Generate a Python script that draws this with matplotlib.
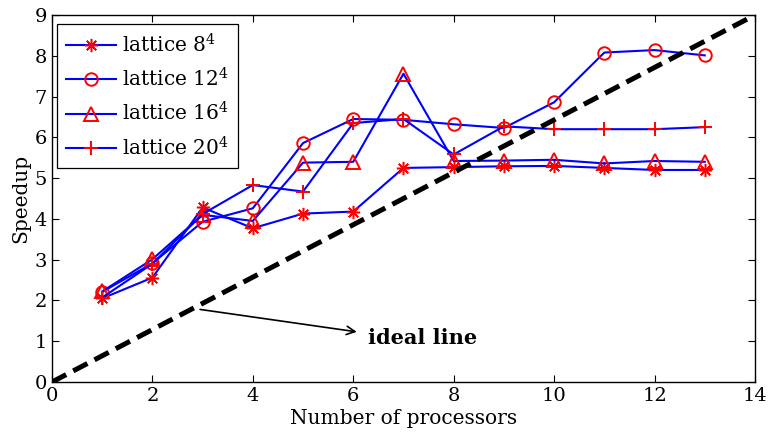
import matplotlib
matplotlib.use("Agg")
import matplotlib.pyplot as plt

plt.rcParams['font.family'] = ['DejaVu Serif']
plt.rcParams['mathtext.fontset'] = 'dejavuserif'

procs = [1, 2, 3, 4, 5, 6, 7, 8, 9, 10, 11, 12, 13]
lat8 = [2.05, 2.56, 4.28, 3.77, 4.13, 4.18, 5.25, 5.27, 5.29, 5.30, 5.25, 5.20, 5.20]
lat12 = [2.21, 2.91, 3.93, 4.26, 5.86, 6.45, 6.43, 6.32, 6.23, 6.86, 8.08, 8.14, 8.01]
lat16 = [2.22, 3.01, 4.10, 3.95, 5.38, 5.40, 7.56, 5.42, 5.43, 5.45, 5.36, 5.42, 5.40]
lat20 = [2.07, 2.90, 4.12, 4.83, 4.67, 6.35, 6.45, 5.58, 6.27, 6.20, 6.20, 6.20, 6.25]
ideal_x = [0, 14]
ideal_y = [0, 9]
labels = [r'lattice $8^4$', r'lattice $12^4$', r'lattice $16^4$', r'lattice $20^4$']
markers = [(8, 2, 0), 'o', '^', '+']
msizes = [9.5, 9, 10, 10]
mews = [1.1, 1.4, 1.4, 1.4]

fig = plt.figure(figsize=(7.71, 4.34), dpi=100)
ax = fig.add_axes([0.0674, 0.1198, 0.9118, 0.8456])

series = [lat8, lat12, lat16, lat20]
for s, lab, m, ms, mw in zip(series, labels, markers, msizes, mews):
    ax.plot(procs, s, color='#0000ff', lw=1.5, marker=m, ms=ms,
            mec='#ff0000', mfc='none', mew=mw, label=lab)

ax.plot(ideal_x, ideal_y, color='black', lw=3.6, linestyle=(0, (3.2, 1.6)))

ax.annotate('', xy=(6.07, 1.23), xytext=(2.95, 1.78),
            arrowprops=dict(arrowstyle='->', color='black', lw=1.2,
                            shrinkA=0, shrinkB=0, mutation_scale=15))
ax.text(6.3, 1.08, 'ideal line', fontsize=15, fontweight='bold', ha='left', va='center')

ax.set_xlim(0, 14)
ax.set_ylim(0, 9)
ax.set_xticks(range(0, 15, 2))
ax.set_yticks(range(0, 10))
ax.tick_params(direction='in', top=True, right=True, length=5, labelsize=14, width=0.8)
ax.set_xlabel('Number of processors', fontsize=14.5, labelpad=3)
ax.set_ylabel('Speedup', fontsize=14.5, labelpad=3)
for sp in ax.spines.values():
    sp.set_linewidth(1.0)

leg = ax.legend(loc='upper left', bbox_to_anchor=(0.0071, 0.9755), fontsize=14.5,
                frameon=True, fancybox=False, edgecolor='black', framealpha=1,
                borderaxespad=0, handlelength=2.5, handletextpad=0.3,
                labelspacing=0.55, borderpad=0.45)
leg.get_frame().set_linewidth(0.9)

fig.savefig('out.png', dpi=100)
